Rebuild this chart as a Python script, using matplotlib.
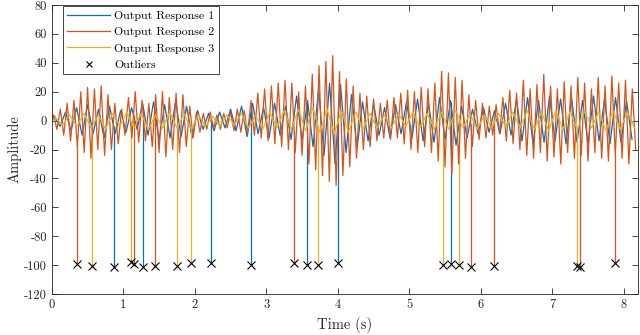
import numpy as np
import matplotlib
matplotlib.use("Agg")
import matplotlib.pyplot as plt

# ---------------- data ----------------
# Response 2 (orange): per-cycle (high, low) extrema, ~10.5 Hz
r2_high = [4, 8, 12, 14, 20, 23, 22, 24, 18, 12, 8, 16, 20, 14, 12, 18, 20, 16, 19, 18,
           10, 6, 5, 6, 4, 5, 6, 8, 7, 14, 19, 22, 24, 26, 28, 26, 20, 24, 32, 38,
           41, 45, 34, 29, 24, 19, 17, 15, 12, 14, 16, 19, 21, 20, 23, 22, 26, 34, 33, 30,
           28, 18, 14, 12, 10, 11, 16, 21, 19, 28, 22, 25, 32, 24, 22, 27, 24, 30, 26, 22,
           30, 24, 31, 26, 28, 22]
r2_low = [-6, -10, -14, -18, -22, -26, -20, -24, -20, -16, -10, -12, -15, -14, -18, -22, -25, -20, -22, -18,
          -12, -8, -6, -5, -6, -5, -7, -8, -9, -10, -12, -14, -16, -18, -20, -22, -24, -30, -34, -38,
          -42, -45, -38, -32, -26, -20, -18, -14, -12, -13, -12, -16, -20, -22, -18, -22, -28, -32, -37, -30,
          -26, -18, -13, -12, -10, -9, -14, -16, -20, -24, -26, -22, -28, -25, -30, -22, -26, -24, -28, -22,
          -26, -28, -24, -26, -30, -20]
r2_cycle = 1 / 10.5

# Response 1 (blue): per-cycle extrema, ~6.5 Hz
r1_high = [3, 6, 9, 11, 8, 10, 7, 9, 12, 13, 11, 14, 10, 7, 5, 6, 8, 10, 12, 9,
           12, 10, 17, 14, 22, 26, 25, 18, 13, 12, 9, 11, 13, 15, 12, 16, 14, 10, 8, 9,
           7, 12, 15, 16, 14, 17, 15, 16, 14, 17, 15, 16, 14]
r1_low = [-4, -7, -10, -9, -12, -9, -8, -6, -10, -14, -12, -11, -12, -6, -7, -5, -7, -11, -9, -12,
          -10, -13, -14, -18, -24, -30, -22, -19, -14, -10, -12, -9, -12, -14, -15, -13, -17, -12, -9, -8,
          -9, -10, -14, -16, -15, -14, -16, -15, -16, -14, -16, -15, -13]
r1_cycle = 1 / 6.5

# Response 3 (yellow): per-cycle extrema, ~5 Hz
r3_high = [2, 4, 5, 4, 5, 6, 5, 4, 6, 5, 4, 3, 4, 5, 4, 6, 7, 8, 9, 8,
           7, 6, 5, 4, 5, 6, 5, 6, 7, 5, 4, 5, 6, 7, 6, 7, 6, 7, 6, 7, 6]
r3_low = [-3, -4, -5, -6, -4, -5, -6, -5, -5, -6, -4, -4, -3, -5, -6, -5, -6, -7, -8, -9,
          -8, -6, -5, -5, -4, -5, -6, -6, -5, -6, -5, -4, -5, -6, -7, -6, -6, -5, -7, -6, -5]
r3_cycle = 0.2

# Outliers: time (s), value, series index (1..3)
out_t = [0.354, 0.56, 0.863, 1.105, 1.143, 1.28, 1.44, 1.75, 1.95, 2.23, 2.79, 3.39,
         3.57, 3.72, 4.00, 5.47, 5.58, 5.69, 5.86, 6.19, 7.34, 7.39, 7.88]
out_v = [-99.2, -100.4, -101.3, -98.0, -99.2, -101.0, -100.4, -100.4, -98.8, -98.6, -99.7, -98.8,
         -99.7, -99.7, -98.8, -100.0, -99.2, -100.0, -101.0, -100.2, -100.6, -101.3, -98.6]
out_s = [2, 3, 1, 3, 2, 1, 2, 3, 3, 1, 1, 2, 1, 3, 1, 3, 1, 3, 2, 2, 3, 2, 2]

labels = ["Output Response 1", "Output Response 2", "Output Response 3", "Outliers"]
colors = ["#0072BD", "#D95319", "#EDB120"]

xticks = [0, 1, 2, 3, 4, 5, 6, 7, 8]
yticks = [-120, -100, -80, -60, -40, -20, 0, 20, 40, 60, 80]


def extrema_series(highs, lows, cycle):
    vals = [0.0]
    times = [0.0]
    for k, (h, l) in enumerate(zip(highs, lows)):
        times += [k * cycle + cycle * 0.25, k * cycle + cycle * 0.75]
        vals += [h, l]
    return np.array(times), np.array(vals, dtype=float)


series = [extrema_series(r1_high, r1_low, r1_cycle),
          extrema_series(r2_high, r2_low, r2_cycle),
          extrema_series(r3_high, r3_low, r3_cycle)]

# ---------------- figure ----------------
plt.rcParams['font.family'] = ['cmr10', 'DejaVu Serif']
plt.rcParams['mathtext.fontset'] = 'cm'
plt.rcParams['axes.unicode_minus'] = False
plt.rcParams['axes.formatter.use_mathtext'] = False

fig = plt.figure(figsize=(6.4, 3.35), dpi=100)
ax = fig.add_axes([0.081, 0.122, 0.916, 0.863])

handles = []
for i, (t, v) in enumerate(series):
    h, = ax.plot(t, v, color=colors[i], lw=0.9, label=labels[i], zorder=2 + i * 0.1)
    handles.append(h)

# outlier spikes in the series colours
for t0, v0, s in zip(out_t, out_v, out_s):
    t, v = series[s - 1]
    ax.vlines(t0, v0, np.interp(t0, t, v), color=colors[s - 1], lw=0.9, zorder=2)

hx, = ax.plot(out_t, out_v, 'x', color='black', ms=5.5, mew=0.8, label=labels[3], zorder=5)
handles.append(hx)

ax.set_xlim(0, 8.2)
ax.set_ylim(-120, 80)
ax.set_xticks(xticks)
ax.set_yticks(yticks)
ax.tick_params(direction='in', top=True, right=True, length=4, width=0.6,
               colors='#262626', labelsize=9)
for sp in ax.spines.values():
    sp.set_color('#262626')
    sp.set_linewidth(0.6)
ax.set_xlabel("Time (s)", fontsize=10.5, color='#262626', labelpad=4)
ax.set_ylabel("Amplitude", fontsize=10.5, color='#262626', labelpad=2)

leg = ax.legend(handles=handles, loc='upper left', bbox_to_anchor=(0.019, 0.995),
                borderaxespad=0, fontsize=8.6, handlelength=3.6, handletextpad=0.35,
                borderpad=0.35, labelspacing=0.5, fancybox=False, framealpha=1,
                markerscale=0.85)
leg.get_frame().set_edgecolor('#262626')
leg.get_frame().set_linewidth(0.6)

fig.savefig("out.png", dpi=100)
